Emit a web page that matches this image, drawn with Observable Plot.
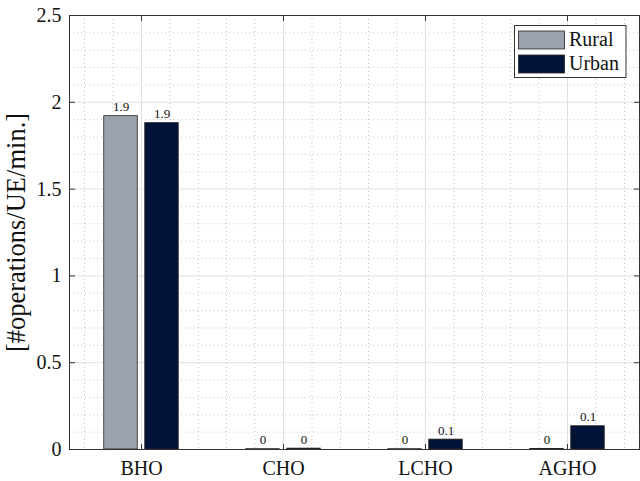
<!DOCTYPE html>
<html>
<head>
<meta charset="utf-8">
<script src="https://cdn.jsdelivr.net/npm/d3@7"></script>
<script src="https://cdn.jsdelivr.net/npm/@observablehq/plot@0.6"></script>
<style>
  html, body { margin: 0; padding: 0; background: #fff; }
  svg { display: block; }
</style>
</head>
<body>
<div id="chart"></div>
<script>
// ---- data ----
const categories = ["BHO", "CHO", "LCHO", "AGHO"];
const series = ["Rural", "Urban"];
const ruralValues = [1.92, 0.002, 0.002, 0.003];
const urbanValues = [1.88, 0.005, 0.057, 0.134];
const yTicks = [0, 0.5, 1, 1.5, 2, 2.5];
const yLabel = "[#operations/UE/min.]";
const colors = {Rural: "#9aa2ad", Urban: "#001336"};

const rural = categories.map((c, i) => ({cat: c, series: "Rural", value: ruralValues[i]}));
const urban = categories.map((c, i) => ({cat: c, series: "Urban", value: urbanValues[i]}));
const yMinor = d3.range(0, 2.5001, 0.1).filter(v => Math.abs(v * 2 - Math.round(v * 2)) > 1e-6);

const W = 640, H = 481, mL = 69, mR = 1, mT = 15, mB = 32;
const band = (W - mL - mR) / categories.length;
const barW = 34, gap = 7;
const offR = -(gap / 2 + barW / 2), offU = gap / 2 + barW / 2;
const fmt = v => String(+v.toFixed(1));
const font = "'Liberation Serif', 'Times New Roman', serif";

const minorX = [-2, -1, 1, 2].map(k =>
  Plot.ruleX(categories, {x: d => d, dx: k * band / 5, stroke: "#c4c4c4", strokeDasharray: "1,3", strokeWidth: 1})
);

const svg = Plot.plot({
  width: W, height: H,
  marginLeft: mL, marginRight: mR, marginTop: mT, marginBottom: mB,
  style: {fontFamily: font, fontSize: "20px", background: "#fff", color: "#262626"},
  x: {domain: categories, padding: 0, axis: null},
  y: {domain: [0, 2.5], axis: null},
  marks: [
    // minor grid
    Plot.ruleY(yMinor, {y: d => d, stroke: "#c4c4c4", strokeDasharray: "1,3"}),
    ...minorX,
    // major grid
    Plot.ruleY(yTicks, {y: d => d, stroke: "#e0e0e0"}),
    Plot.ruleX(categories, {x: d => d, stroke: "#e0e0e0"}),
    // bars
    Plot.barY(rural, {x: "cat", y: "value", fill: colors.Rural, stroke: "#262626", strokeWidth: 0.8,
      insetLeft: band / 2 + offR - barW / 2, insetRight: band / 2 - offR - barW / 2}),
    Plot.barY(urban, {x: "cat", y: "value", fill: colors.Urban, stroke: "#262626", strokeWidth: 0.8,
      insetLeft: band / 2 + offU - barW / 2, insetRight: band / 2 - offU - barW / 2}),
    // value labels
    Plot.text(rural, {x: "cat", y: "value", text: d => fmt(d.value), dx: offR, dy: -5, lineAnchor: "bottom", fontSize: 13, fill: "#111", fontFamily: font}),
    Plot.text(urban, {x: "cat", y: "value", text: d => fmt(d.value), dx: offU, dy: -5, lineAnchor: "bottom", fontSize: 13, fill: "#111", fontFamily: font}),
    // frame
    Plot.frame({stroke: "#333", strokeWidth: 1}),
    // axes (inward ticks)
    Plot.axisY(yTicks, {anchor: "left", tickSize: -6, tickPadding: 14, tickFormat: d => String(d), stroke: "#333", fill: "#111", label: null, fontFamily: font}),
    Plot.axisY(yTicks, {anchor: "right", tickSize: -6, tickFormat: () => "", stroke: "#333", label: null}),
    Plot.axisX(categories, {anchor: "bottom", tickSize: -5, tickPadding: 16, stroke: "#333", fill: "#111", label: null, fontFamily: font}),
    Plot.axisX(categories, {anchor: "top", tickSize: -5, tickFormat: () => "", stroke: "#333", label: null}),
    // y label
    Plot.text([yLabel], {frameAnchor: "left", text: d => d, rotate: -90, dx: -53, textAnchor: "middle", fontSize: 26.5, fill: "#111", fontFamily: font})
  ]
});

// legend (drawn in pixel space)
const lg = d3.select(svg).append("g").attr("font-family", font).attr("font-size", 20).attr("text-anchor", "start");
lg.append("rect").attr("x", 514.5).attr("y", 25.5).attr("width", 111.5).attr("height", 52)
  .attr("fill", "#fff").attr("stroke", "#333").attr("stroke-width", 1);
series.forEach((s, i) => {
  const y0 = 31 + i * 24;
  lg.append("rect").attr("x", 518.5).attr("y", y0).attr("width", 46).attr("height", 18)
    .attr("fill", colors[s]).attr("stroke", "#262626").attr("stroke-width", 0.8);
  lg.append("text").attr("x", 569).attr("y", y0 + 15).attr("fill", "#111").attr("text-anchor", "start").text(s);
});

document.getElementById("chart").appendChild(svg);
</script>
</body>
</html>
